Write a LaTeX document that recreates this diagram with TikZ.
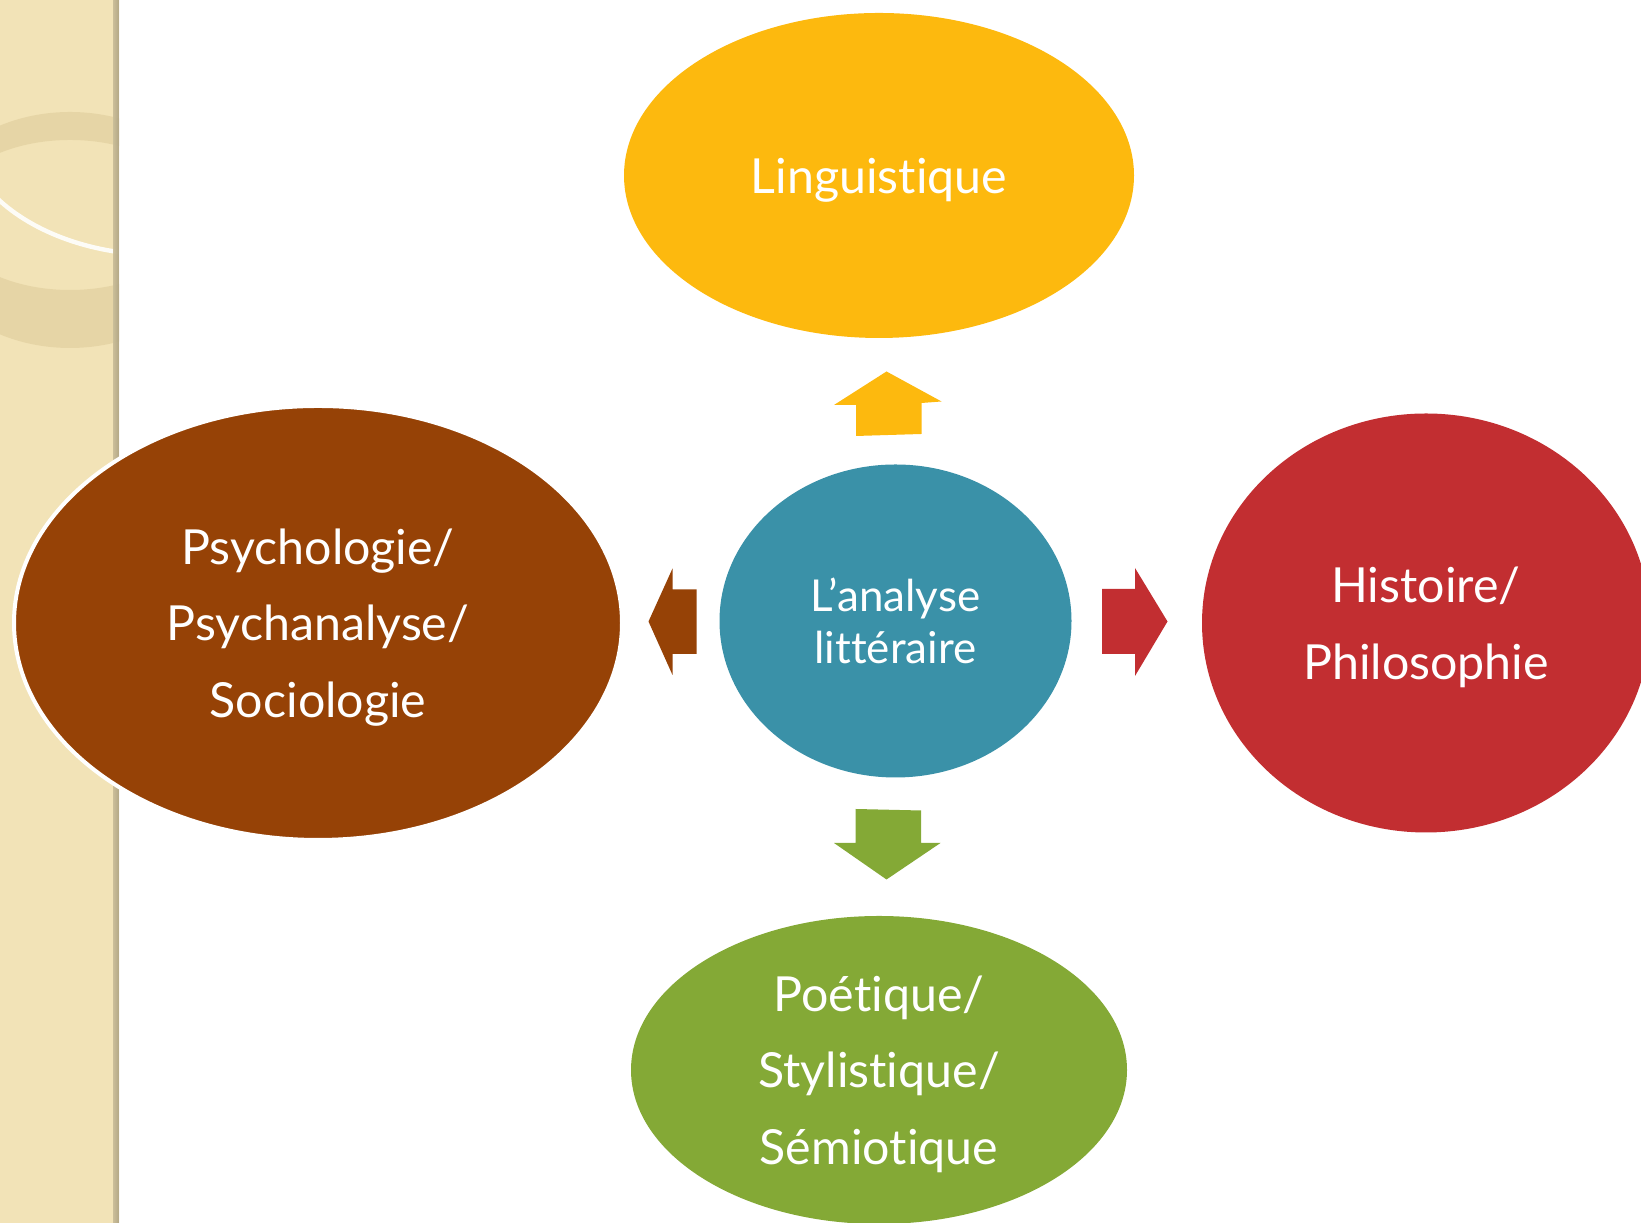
\documentclass[tikz,border=0pt]{standalone}
\usepackage{fontspec}
\setmainfont{Lato}[Ligatures=NoCommon]
\usetikzlibrary{shapes.geometric}
\definecolor{jaune}{RGB}{253,185,14}
\definecolor{bleu}{RGB}{58,145,168}
\definecolor{brun}{RGB}{150,66,6}
\definecolor{rouge}{RGB}{194,46,49}
\definecolor{vert}{RGB}{132,169,54}
\definecolor{bande}{RGB}{242,227,183}
\definecolor{bandebord}{RGB}{212,198,158}
\definecolor{anneau}{RGB}{228,210,162}
\tikzset{
  bulle/.style={ellipse,inner sep=0pt,text=white,align=center,text depth=0pt,
    font=\fontsize{27.5}{43.5}\selectfont},
  petite/.style={text depth=,font=\fontsize{25}{29.4}\selectfont}
}
\begin{document}
\begin{tikzpicture}[x=1cm,y=1cm]
  \useasboundingbox (0,0) rectangle (32.82,24.46);
  % bande décorative à gauche
  \fill[bande] (0,0) rectangle (2.38,24.46);
  \begin{scope}
    \clip (0,0) rectangle (2.38,24.46);
    \fill[anneau,opacity=0.8,even odd rule] (1.40,19.86) ellipse (3.0 and 2.36) (1.40,20.16) ellipse (2.5 and 1.5);
    \draw[white,line width=2.5pt,opacity=0.9] (3.2,22.06) ++(210:4.0 and 2.7) arc[start angle=210,end angle=265,x radius=4.0,y radius=2.7];
    \fill[left color=bande,right color=bandebord,opacity=0.8] (2.26,0) rectangle (2.38,24.46);
  \end{scope}
  % les bulles
  \node[bulle,fill=jaune,minimum width=10.2cm,minimum height=6.5cm] (ling) at (17.58,20.95) {Linguistique};
  \node[bulle,petite,fill=bleu,minimum width=7.04cm,minimum height=6.26cm] (centre) at (17.91,12.04) {L’analyse\\littéraire};
  \node[bulle,fill=brun,draw=white,line width=0.08cm,minimum width=12.16cm,minimum height=8.68cm] (psy) at (6.36,12.0) {Psychologie/\\Psychanalyse/\\Sociologie};
  \node[bulle,fill=rouge,minimum width=8.96cm,minimum height=8.38cm] (hist) at (28.52,12.0) {Histoire/\\Philosophie};
  \node[bulle,fill=vert,minimum width=9.92cm,minimum height=6.16cm] (poet) at (17.58,3.06) {Poétique/\\Stylistique/\\Sémiotique};
  % flèches
  \fill[jaune] (17.73,17.03) -- (18.83,16.43) -- (18.43,16.40) -- (18.43,15.78) -- (17.12,15.74) -- (17.12,16.36) -- (16.68,16.36) -- cycle;
  \fill[vert] (17.11,8.28) -- (18.42,8.25) -- (18.42,7.60) -- (18.81,7.60) -- (17.73,6.87) -- (16.68,7.60) -- (17.11,7.60) -- cycle;
  \fill[brun] (12.97,12.03) -- (13.45,13.09) -- (13.45,12.67) -- (13.93,12.67) -- (13.93,11.38) -- (13.45,11.38) -- (13.45,10.96) -- cycle;
  \fill[rouge] (22.04,12.68) -- (22.70,12.68) -- (22.70,13.10) -- (23.35,12.03) -- (22.70,10.94) -- (22.70,11.38) -- (22.04,11.38) -- cycle;
\end{tikzpicture}
\end{document}
